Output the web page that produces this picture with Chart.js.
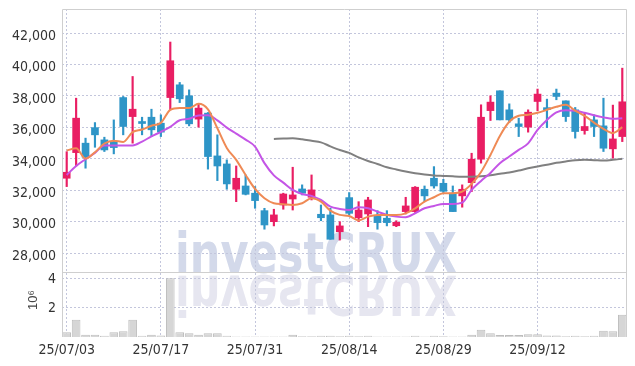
<!DOCTYPE html>
<html>
<head>
<meta charset="utf-8">
<script src="https://cdn.jsdelivr.net/npm/chart.js@4"></script>
<style>
  html, body { margin: 0; padding: 0; background: #fff; }
  #wrap { width: 635px; height: 366px; }
</style>
</head>
<body>
<div id="wrap"><canvas id="chart" width="635" height="366"></canvas></div>
<script>
// trading days, YY/MM/DD
const dates = [
  '25/07/03','25/07/04','25/07/07','25/07/08','25/07/09','25/07/10','25/07/11','25/07/14','25/07/15','25/07/16',
  '25/07/17','25/07/18','25/07/21','25/07/22','25/07/23','25/07/24','25/07/25','25/07/28','25/07/29','25/07/30',
  '25/07/31','25/08/01','25/08/04','25/08/05','25/08/06','25/08/07','25/08/08','25/08/11','25/08/12','25/08/13',
  '25/08/14','25/08/18','25/08/19','25/08/20','25/08/21','25/08/22','25/08/25','25/08/26','25/08/27','25/08/28',
  '25/08/29','25/09/01','25/09/02','25/09/03','25/09/04','25/09/05','25/09/08','25/09/09','25/09/10','25/09/11',
  '25/09/12','25/09/15','25/09/16','25/09/17','25/09/18','25/09/19','25/09/22','25/09/23','25/09/24','25/09/25'
];

const openP = [
  32770,34400,35000,35990,35210,35100,37900,36690,36370,36650,
  36270,37900,38710,38010,36530,36910,34190,33680,32070,32280,
  31820,30710,30010,31070,31450,32090,31560,30480,30440,29370,
  31540,30260,30500,30370,30230,29750,30650,30650,32070,32770,
  32450,31820,31650,32490,33980,37070,38330,37120,36230,36020,
  37650,37200,38180,37690,37120,35800,36480,36100,34640,35420
];
const highP = [
  34460,37860,35320,36310,35380,36480,37970,39240,36650,37160,
  36800,41430,38860,38390,37500,36950,35530,33940,33550,32980,
  32240,30860,30800,31820,33470,32350,32980,31070,30860,30010,
  31860,31280,31560,30710,30710,30070,31560,32240,32280,33510,
  32700,32280,32350,34360,37440,38010,38330,37500,36590,37120,
  38440,37800,38440,37690,37270,36950,36800,37860,37420,39770
];
const lowP = [
  32240,33550,33410,34740,34470,34320,35530,35000,35530,35420,
  35420,37120,37580,36100,36020,33350,32620,32070,31280,31710,
  30860,29530,29740,30800,30750,31710,31390,30070,28890,28840,
  30440,30010,29690,29530,29740,29690,30500,30600,31280,32140,
  31860,30650,30930,31920,33730,36440,36480,36310,35420,35700,
  37060,35990,37760,36380,35320,35570,35420,34470,34040,35100
];
const closeP = [
  33150,36590,34110,35530,34570,34720,36060,37160,36250,35850,
  35700,40240,37820,36230,37230,34150,33550,32410,32770,31750,
  31350,29800,30440,31770,31710,31820,32030,30260,28890,29740,
  30540,30750,31390,29950,29950,29970,31010,32200,31650,32280,
  31940,30650,32070,33980,36650,37610,36480,36480,36060,36970,
  38120,37130,37970,36690,35740,36060,36060,34680,35270,37630
];

const ma5 = [
  34530,34680,34020,34420,34980,35160,35080,35700,35870,36110,
  36290,37120,37230,37230,37500,37150,35950,34700,33940,32980,
  32090,31500,31180,31120,31070,31180,31500,31280,30710,30440,
  30370,30090,30330,30440,30440,30440,30540,30860,31280,31560,
  31820,31820,31920,32410,33170,34250,35460,36360,36740,36800,
  36930,37120,37310,37440,37070,36740,36310,35910,35640,36020
];
const ma10 = [
  32980,33550,33980,34380,34860,34850,34850,34850,35100,35430,
  35720,36040,36460,36550,36760,36770,36450,35990,35610,35230,
  34780,33730,32950,32490,32030,31770,31650,31390,30960,30820,
  30750,30920,30860,30650,30440,30330,30290,30540,30860,31010,
  31140,31140,31220,32030,32600,33110,33730,34150,34570,34990,
  35850,36480,36960,37100,37060,36930,36770,36640,36550,36590
];
const maLong = [
  null,null,null,null,null,null,null,null,null,null,
  null,null,null,null,null,null,null,null,null,null,
  null,null,35270,35290,35320,35250,35150,35050,34800,34570,
  34380,34100,33870,33680,33470,33330,33200,33090,33010,32950,
  32920,32890,32870,32870,32890,32960,33060,33140,33260,33400,
  33520,33630,33750,33840,33920,33940,33920,33900,33940,34010
];
const volume = [
  320000,1180000,160000,160000,90000,320000,390000,1180000,90000,160000,
  110000,4000000,320000,250000,160000,250000,250000,90000,30000,30000,
  30000,30000,30000,30000,160000,50000,50000,90000,90000,50000,
  90000,50000,90000,30000,30000,30000,30000,90000,30000,90000,
  50000,30000,30000,160000,500000,250000,140000,140000,140000,180000,
  180000,110000,110000,50000,90000,50000,90000,430000,390000,1520000
];

const priceTicks = [28000, 30000, 32000, 34000, 36000, 38000, 40000, 42000];
const volumeTicks = [2000000, 4000000];
const watermark = 'investCRUX';

const UP = '#e91e63';
const DOWN = '#2e95c7';
const GRID = '#c3c6dc';
const candleColors = closeP.map((c, i) => c >= openP[i] ? UP : DOWN);
const tickFont = { family: "'DejaVu Sans Condensed', 'Liberation Sans Narrow', Roboto, sans-serif", size: 14 };

const decor = {
  id: 'decor',
  beforeDraw(chart) {
    const { ctx } = chart;
    const base = chart.scales.y.bottom;
    ctx.save();
    ctx.fillStyle = '#fff';
    ctx.fillRect(0, 0, chart.width, chart.height);
    ctx.font = "bold 55px 'DejaVu Sans', sans-serif";
    ctx.textBaseline = 'alphabetic';
    const sx = 282 / ctx.measureText(watermark).width;
    ctx.translate(175, base);
    ctx.scale(sx, 1);
    ctx.fillStyle = '#d3d9ea';
    ctx.fillText(watermark, 0, 0);
    // mirrored copy below the baseline
    ctx.scale(1, -1);
    ctx.fillStyle = '#e6e6f0';
    ctx.fillText(watermark, 0, -4);
    ctx.restore();
  },
  afterDraw(chart) {
    const { ctx, chartArea: a } = chart;
    const sep = Math.round(chart.scales.y.bottom) + 0.5;
    ctx.save();
    ctx.strokeStyle = '#cfcfcf';
    ctx.lineWidth = 1;
    ctx.beginPath();
    ctx.moveTo(Math.round(a.left) + 0.5, a.bottom);
    ctx.lineTo(Math.round(a.left) + 0.5, Math.round(a.top) + 0.5);
    ctx.lineTo(Math.round(a.right) - 0.5, Math.round(a.top) + 0.5);
    ctx.lineTo(Math.round(a.right) - 0.5, a.bottom);
    ctx.moveTo(a.left, sep);
    ctx.lineTo(a.right, sep);
    ctx.stroke();
    // volume unit
    ctx.translate(33, 300);
    ctx.rotate(-Math.PI / 2);
    ctx.fillStyle = '#444';
    ctx.font = "13px 'Liberation Sans', sans-serif";
    ctx.textAlign = 'center';
    ctx.textBaseline = 'middle';
    ctx.fillText('10⁶', 0, 0);
    ctx.restore();
  }
};

const ctx = document.getElementById('chart').getContext('2d');
new Chart(ctx, {
  data: {
    labels: dates,
    datasets: [
      { type: 'line', label: 'MA5', data: ma5, yAxisID: 'y', borderColor: '#ef8a55', borderWidth: 2,
        pointRadius: 0, cubicInterpolationMode: 'monotone', order: 0 },
      { type: 'line', label: 'MA10', data: ma10, yAxisID: 'y', borderColor: '#c455e6', borderWidth: 2,
        pointRadius: 0, cubicInterpolationMode: 'monotone', order: 0 },
      { type: 'line', label: 'MA', data: maLong, yAxisID: 'y', borderColor: '#808080', borderWidth: 2,
        pointRadius: 0, cubicInterpolationMode: 'monotone', order: 0 },
      { type: 'bar', label: 'body', yAxisID: 'y',
        data: openP.map((o, i) => [Math.min(o, closeP[i]), Math.max(o, closeP[i])]),
        backgroundColor: candleColors, barThickness: 7, minBarLength: 2, grouped: false, order: 1 },
      { type: 'bar', label: 'wick', yAxisID: 'y',
        data: lowP.map((l, i) => [l, highP[i]]),
        backgroundColor: candleColors, barThickness: 1.5, grouped: false, order: 2 },
      { type: 'bar', label: 'volume', yAxisID: 'yVol', data: volume,
        backgroundColor: '#d6d6d6', borderColor: '#bdbdbd', borderWidth: 1,
        barPercentage: 0.92, categoryPercentage: 1, grouped: false, order: 3 }
    ]
  },
  options: {
    responsive: false,
    animation: false,
    events: [],
    layout: { padding: { top: 9, right: 8, left: 0, bottom: 0 } },
    plugins: { legend: { display: false }, tooltip: { enabled: false } },
    scales: {
      x: {
        type: 'category',
        offset: true,
        grid: { offset: false, drawTicks: false, color: c => c.index % 10 === 0 ? GRID : 'transparent' },
        border: { display: false, dash: [2, 2] },
        ticks: { autoSkip: false, maxRotation: 0, padding: 5, color: '#333', font: tickFont,
                 callback: (v, i) => i % 10 === 0 ? dates[i] : '' },
        afterFit: s => { s.height = 29; s.paddingLeft = 0; s.paddingRight = 0; }
      },
      // left stacked axes are laid out in reverse, so the volume panel is listed first
      yVol: {
        position: 'left', stack: 'main', stackWeight: 65,
        min: 0, max: 4430000,
        afterBuildTicks: s => { s.ticks = volumeTicks.map(v => ({ value: v })); },
        grid: { drawTicks: false, color: GRID },
        border: { display: false, dash: [2, 2] },
        ticks: { autoSkip: false, padding: 6, labelOffset: 1, color: '#333', font: tickFont,
                 callback: v => v / 1000000 },
        afterFit: s => { s.width = 62; s.paddingTop = 0; s.paddingBottom = 0; }
      },
      y: {
        position: 'left', stack: 'main', stackWeight: 263,
        min: 26810, max: 43530,
        afterBuildTicks: s => { s.ticks = priceTicks.map(v => ({ value: v })); },
        grid: { drawTicks: false, color: GRID },
        border: { display: false, dash: [2, 2] },
        ticks: { autoSkip: false, padding: 6, labelOffset: 3, color: '#333', font: tickFont,
                 callback: v => v.toLocaleString('en-US') },
        afterFit: s => { s.width = 62; s.paddingTop = 0; s.paddingBottom = 0; }
      }
    }
  },
  plugins: [decor]
});
</script>
</body>
</html>
